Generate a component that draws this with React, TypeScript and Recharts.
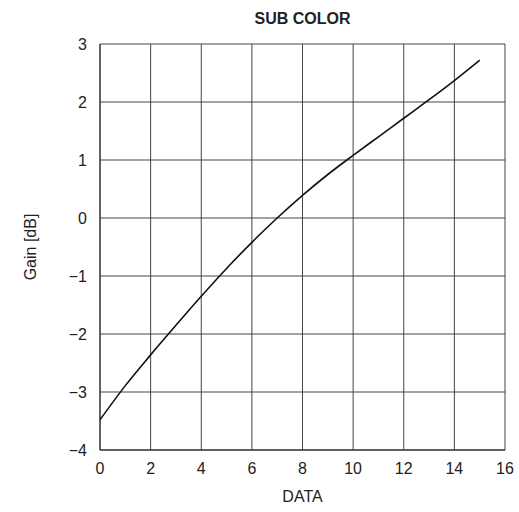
import React from 'react'
import { LineChart, Line, XAxis, YAxis, CartesianGrid } from 'recharts'

// values
const dataX = [0, 1, 2, 3, 4, 5, 6, 7, 8, 9, 10, 11, 12, 13, 14, 15]
const gain = [-3.48, -2.89, -2.36, -1.85, -1.35, -0.87, -0.42, 0.0, 0.39, 0.75, 1.08, 1.4, 1.72, 2.04, 2.37, 2.72]

const xTicks = [0, 2, 4, 6, 8, 10, 12, 14, 16]
const yTicks = [-4, -3, -2, -1, 0, 1, 2, 3]

const title = 'SUB COLOR'
const xLabel = 'DATA'
const yLabel = 'Gain [dB]'

const FONT = '"Liberation Sans", Arial, sans-serif'

const chartData = dataX.map((x, i) => ({ x, gain: gain[i] }))

const fmt = (v: number) => String(v).replace('-', '\u2212')

const YLabel = (props: any) => {
  const { viewBox } = props
  const cy = viewBox.y + viewBox.height / 2
  return (
    <text
      x={30}
      y={cy}
      transform={`rotate(-90, 30, ${cy})`}
      textAnchor='middle'
      dominantBaseline='central'
      fontFamily={FONT}
      fontSize={16}
      fill='#222'
    >
      {yLabel}
    </text>
  )
}

const XLabel = (props: any) => {
  const { viewBox } = props
  const cx = viewBox.x + viewBox.width / 2
  return (
    <text x={cx} y={496} textAnchor='middle' dominantBaseline='central' fontFamily={FONT} fontSize={16} fill='#222'>
      {xLabel}
    </text>
  )
}

export default function App() {
  return (
    <div style={{ position: 'absolute', left: 0, top: 0, width: 519, height: 512, background: '#fff' }}>
      <div
        style={{
          position: 'absolute',
          left: 100,
          width: 405,
          top: 9,
          textAlign: 'center',
          fontFamily: FONT,
          fontWeight: 'bold',
          fontSize: 16,
          color: '#222',
          lineHeight: '20px'
        }}
      >
        {title}
      </div>
      <LineChart width={519} height={512} data={chartData} margin={{ top: 44, right: 14, bottom: 32, left: 25 }}>
        <CartesianGrid stroke='#444' strokeWidth={1} horizontalValues={yTicks} verticalValues={xTicks} />
        <XAxis
          dataKey='x'
          type='number'
          domain={[0, 16]}
          ticks={xTicks}
          interval={0}
          height={30}
          tickLine={false}
          tickMargin={7}
          axisLine={{ stroke: '#222' }}
          tick={{ fill: '#222', fontSize: 16, fontFamily: FONT }}
          label={<XLabel />}
        />
        <YAxis
          type='number'
          domain={[-4, 3]}
          ticks={yTicks}
          interval={0}
          width={75}
          tickLine={false}
          tickMargin={7}
          tickFormatter={fmt}
          axisLine={{ stroke: '#222' }}
          tick={{ fill: '#222', fontSize: 16, fontFamily: FONT }}
          label={<YLabel />}
        />
        <Line
          type='monotone'
          dataKey='gain'
          stroke='#111'
          strokeWidth={1.6}
          dot={false}
          isAnimationActive={false}
        />
      </LineChart>
    </div>
  )
}
